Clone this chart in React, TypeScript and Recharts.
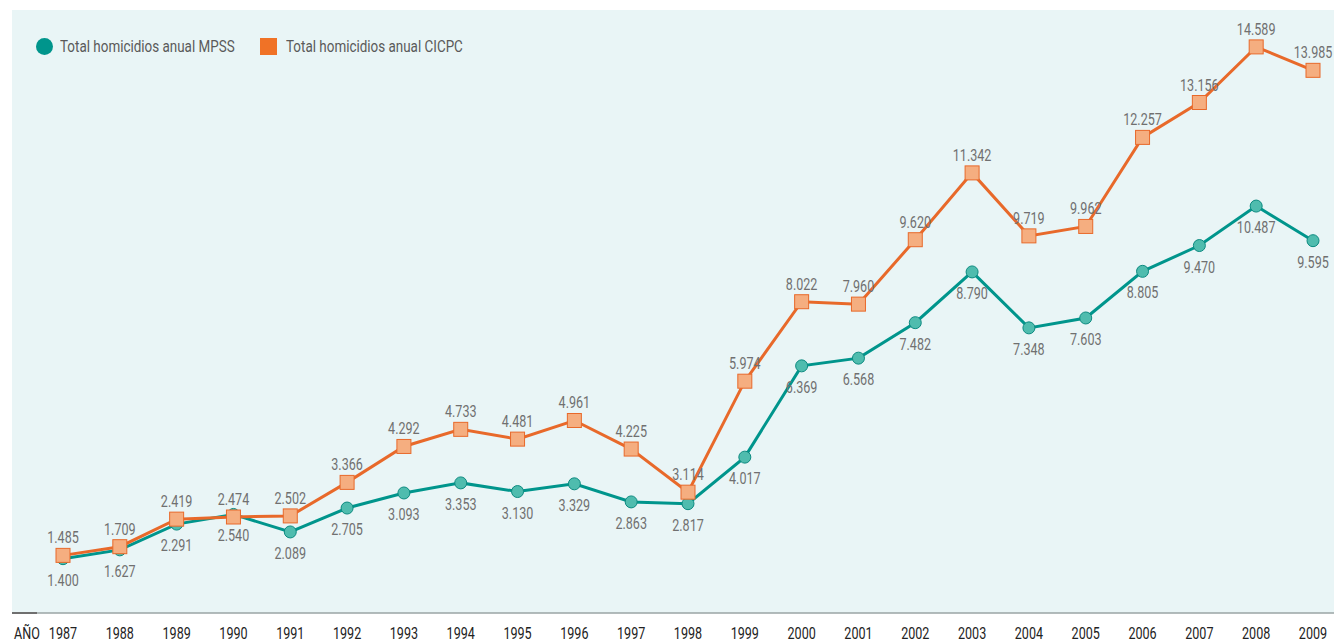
import { CartesianGrid, LabelList, Line, LineChart, XAxis, YAxis } from "recharts"

const YEARS = ["1987", "1988", "1989", "1990", "1991", "1992", "1993", "1994", "1995", "1996", "1997", "1998", "1999", "2000", "2001", "2002", "2003", "2004", "2005", "2006", "2007", "2008", "2009"]
const MPSS = [1400, 1627, 2291, 2540, 2089, 2705, 3093, 3353, 3130, 3329, 2863, 2817, 4017, 6369, 6568, 7482, 8790, 7348, 7603, 8805, 9470, 10487, 9595]
const CICPC = [1485, 1709, 2419, 2474, 2502, 3366, 4292, 4733, 4481, 4961, 4225, 3114, 5974, 8022, 7960, 9620, 11342, 9719, 9962, 12257, 13156, 14589, 13985]

const data = YEARS.map((year, i) => ({ year, mpss: MPSS[i], cicpc: CICPC[i] }))

const FONT = "Roboto, 'Noto Sans', sans-serif"
const SQUEEZE = 0.74
const LEGEND_SQUEEZE = 0.79
const TEAL = "#00958c"
const ORANGE = "#e8692a"

const fmt = (v: number) => v.toLocaleString("de-DE")

const CircleDot = (props: any) => {
  const { cx, cy } = props
  if (cx == null || cy == null) return null
  return <circle cx={cx} cy={cy} r={6} fill="#4fbcae" stroke="#0c8a80" strokeWidth={1} />
}

const SquareDot = (props: any) => {
  const { cx, cy } = props
  if (cx == null || cy == null) return null
  return <rect x={cx - 7} y={cy - 7} width={14} height={14} fill="#f5ae80" stroke={ORANGE} strokeWidth={1} />
}

// condensed text: Roboto squeezed horizontally
const NarrowText = ({ x, y, children, fill }: any) => (
  <text
    transform={`translate(${x},${y}) scale(${SQUEEZE},1)`}
    textAnchor="middle"
    fill={fill}
    fontSize={17}
    fontFamily={FONT}
  >
    {children}
  </text>
)

const renderLabel = (above: boolean) => (props: any) => {
  const { x, y, value } = props
  return (
    <NarrowText x={x} y={above ? y - 12 : y + 27} fill="#707070">
      {fmt(Number(value))}
    </NarrowText>
  )
}

const YearTick = (props: any) => {
  const { x, payload } = props
  return (
    <NarrowText x={x} y={639} fill="#222">
      {payload.value}
    </NarrowText>
  )
}

const legendText = {
  position: "absolute" as const,
  top: 36,
  fontFamily: FONT,
  fontSize: 17,
  lineHeight: "20px",
  color: "#5a5a5a",
  whiteSpace: "nowrap" as const,
  transform: `scaleX(${LEGEND_SQUEEZE})`,
  transformOrigin: "0 0",
}

export default function App() {
  return (
    <div style={{ position: "absolute", left: 0, top: 0, width: 1334, height: 643, background: "#fff" }}>
      <LineChart width={1334} height={643} data={data} margin={{ top: 10, right: 0, left: 12, bottom: 0 }}>
        <CartesianGrid horizontal={false} vertical={false} fill="#e9f5f6" stroke="none" />
        <XAxis
          dataKey="year"
          padding={{ left: 51, right: 21 }}
          height={30}
          tickLine={false}
          axisLine={{ stroke: "#9aa5a5", strokeWidth: 1.5 }}
          tick={<YearTick />}
          interval={0}
        />
        <YAxis hide domain={[0, 15540]} />
        <Line dataKey="mpss" stroke={TEAL} strokeWidth={3} dot={<CircleDot />} isAnimationActive={false}>
          <LabelList dataKey="mpss" content={renderLabel(false)} />
        </Line>
        <Line dataKey="cicpc" stroke={ORANGE} strokeWidth={3} dot={<SquareDot />} isAnimationActive={false}>
          <LabelList dataKey="cicpc" content={renderLabel(true)} />
        </Line>
        <text transform={`translate(14,639) scale(${SQUEEZE},1)`} fontSize={17} fontFamily={FONT} fill="#222">
          AÑO
        </text>
      </LineChart>
      <div style={{ position: "absolute", left: 12, top: 612, width: 25, height: 2, background: "#6f6f6f" }} />
      <div style={{ position: "absolute", left: 36, top: 38, width: 17, height: 17, borderRadius: "50%", background: TEAL }} />
      <div style={{ position: "absolute", left: 260, top: 38, width: 17, height: 17, background: "#f07226" }} />
      <div style={{ ...legendText, left: 60 }}>Total homicidios anual MPSS</div>
      <div style={{ ...legendText, left: 286 }}>Total homicidios anual CICPC</div>
    </div>
  )
}
